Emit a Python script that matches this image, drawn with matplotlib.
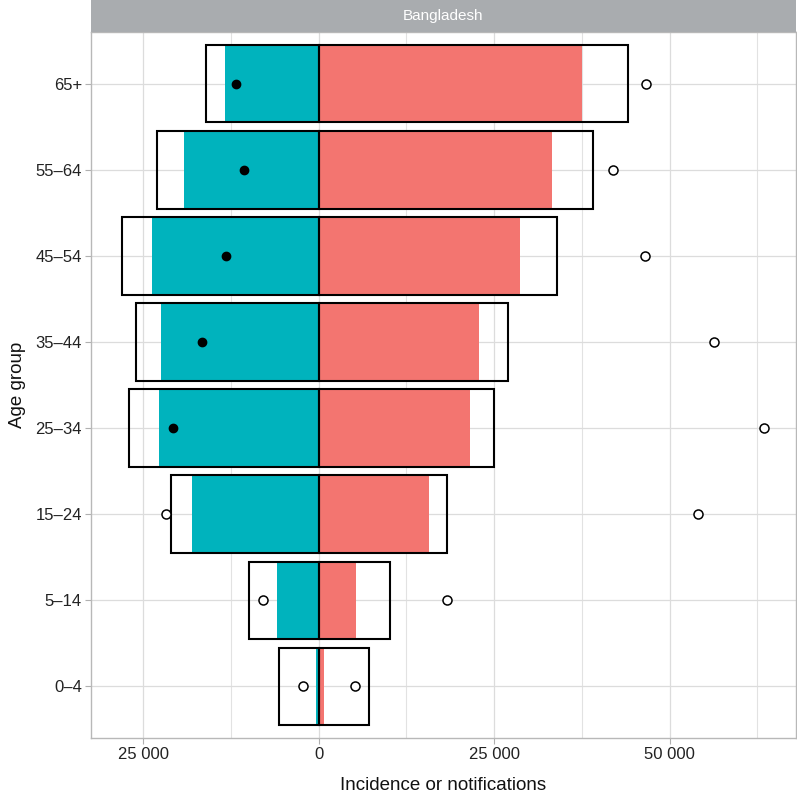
import numpy as np
import matplotlib
matplotlib.use("Agg")
import matplotlib.pyplot as plt
from matplotlib.ticker import FixedLocator, FuncFormatter

plt.rcParams['font.family'] = ['Liberation Sans', 'DejaVu Sans']

# data (left = teal side, right = salmon side)
age_groups = ['0–4', '5–14', '15–24', '25–34', '35–44', '45–54', '55–64', '65+']
left_notif = [330, 5940, 18100, 22700, 22500, 23800, 19200, 13350]
left_inc = [5600, 9950, 21000, 27000, 26000, 28000, 23000, 16000]
left_pts = [2200, 7900, 21700, 20750, 16650, 13250, 10700, 11800]
left_filled = [False, False, False, True, True, True, True, True]
right_notif = [770, 5300, 15650, 21600, 22800, 28700, 33250, 37550]
right_inc = [7100, 10200, 18250, 25000, 27000, 34000, 39050, 44000]
right_pts = [5100, 18300, 54050, 63500, 56250, 46500, 41900, 46650]

teal = '#00B3BD'
salmon = '#F37570'

fig = plt.figure(figsize=(7.97, 7.95), dpi=100)
ax = fig.add_axes([91/797, 57/795, 705/797, 706/795])

y = np.arange(1, len(age_groups) + 1)
ln = -np.array(left_notif)
li = -np.array(left_inc)
lp = -np.array(left_pts)

# grid
for v in [-25000, 0, 25000, 50000]:
    ax.axvline(v, color='#DCDCDC', lw=0.9, zorder=0)
for v in [-12500, 12500, 37500, 62500]:
    ax.axvline(v, color='#E2E2E2', lw=0.8, zorder=0)
for yy in y:
    ax.axhline(yy, color='#DCDCDC', lw=0.9, zorder=0)

# notifications
ax.barh(y, ln, height=0.9, color=teal, zorder=2)
ax.barh(y, right_notif, height=0.9, color=salmon, zorder=2)

# incidence boxes
ax.barh(y, li, height=0.9, fill=False, edgecolor='black', lw=1.5, zorder=3)
ax.barh(y, right_inc, height=0.9, fill=False, edgecolor='black', lw=1.5, zorder=3)

# points
lf = np.array(left_filled)
ax.plot(lp[lf], y[lf], 'o', ms=6, mfc='black', mec='black', ls='none', zorder=4)
ax.plot(lp[~lf], y[~lf], 'o', ms=6.5, mfc='white', mec='black', mew=1.1, ls='none', zorder=4)
ax.plot(right_pts, y, 'o', ms=6.5, mfc='white', mec='black', mew=1.1, ls='none', zorder=4)

ax.set_xlim(-32436, 67990)
ax.set_ylim(0.4, 8.6)
ax.xaxis.set_major_locator(FixedLocator([-25000, 0, 25000, 50000]))
ax.xaxis.set_major_formatter(FuncFormatter(lambda v, p: f"{abs(int(v)):,}".replace(',', ' ')))
ax.set_yticks(y)
ax.set_yticklabels(age_groups)
ax.tick_params(axis='both', colors='#B0B0B0', length=4, width=0.8, labelsize=12,
               labelcolor='#222222', pad=2.5)

for s in ax.spines.values():
    s.set_color('#B8B8B8')
    s.set_linewidth(1.0)

ax.set_xlabel('Incidence or notifications', fontsize=13.5, color='#111111', labelpad=11)
ax.set_ylabel('Age group', fontsize=13.5, color='#111111', labelpad=7)

# facet strip
strip = fig.add_axes([91/797, 763/795, 705/797, 32/795])
strip.set_facecolor('#A9ACAF')
strip.set_xticks([])
strip.set_yticks([])
for s in strip.spines.values():
    s.set_visible(False)
strip.text(0.5, 0.5, 'Bangladesh', color='white', fontsize=11, ha='center', va='center',
           transform=strip.transAxes)

fig.savefig('out.png', dpi=100)
